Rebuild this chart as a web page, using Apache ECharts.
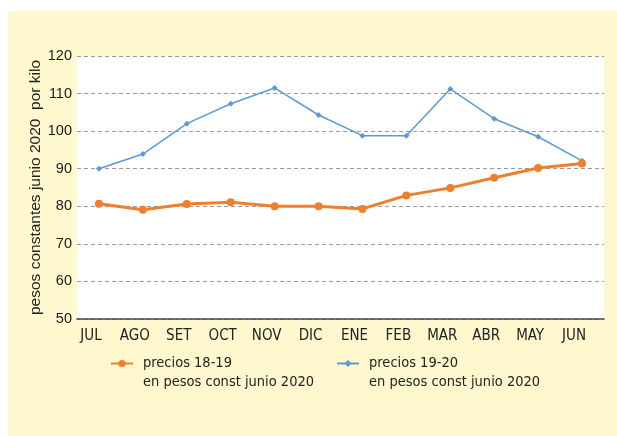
<!DOCTYPE html>
<html>
<head>
<meta charset="utf-8">
<script src="https://cdn.jsdelivr.net/npm/echarts@6/dist/echarts.min.js"></script>
<style>
  html, body { margin: 0; padding: 0; background: #fff; }
  #chart { position: absolute; left: 8px; top: 11px; width: 609px; height: 425px; background: #fff8cf; }
</style>
</head>
<body>
<div id="chart"></div>
<script>
    "use strict";
    var months = ["JUL", "AGO", "SET", "OCT", "NOV", "DIC", "ENE", "FEB", "MAR", "ABR", "MAY", "JUN"];
    var precios1819 = [80.7, 79.1, 80.6, 81.1, 80.0, 80.0, 79.3, 82.9, 84.9, 87.6, 90.2, 91.4];
    var precios1920 = [90.0, 93.9, 102.0, 107.3, 111.5, 104.3, 98.8, 98.8, 111.2, 103.3, 98.5, 92.1];
    var yTicks = { min: 50, max: 120, step: 10 };

    var narrow = '"Liberation Sans Narrow", "DejaVu Sans Condensed", sans-serif';
    var chart = echarts.init(document.getElementById("chart"));

    chart.setOption({
        animation: false,
        grid: {
            left: 69, right: 13, top: 45, bottom: 117,
            show: true, backgroundColor: "#ffffff", borderWidth: 0
        },
        legend: {
            left: 97, top: 319, width: 520,
            itemGap: 22, itemWidth: 22, itemHeight: 9,
            textStyle: {
                fontFamily: narrow, fontSize: 14.5, color: "#222",
                lineHeight: 19, padding: [0, 0, 0, 5]
            },
            // blank first line so the marker sits on the first text line
            formatter: function (name) { return "\n" + name; },
            data: [
                { name: "precios 18-19\nen pesos const junio 2020" },
                { name: "precios 19-20\nen pesos const junio 2020" }
            ]
        },
        xAxis: {
            type: "category",
            data: months,
            boundaryGap: true,
            axisLine: { lineStyle: { color: "#444", width: 1.5 } },
            axisTick: { show: false },
            axisLabel: {
                fontFamily: narrow, fontSize: 15, color: "#222",
                margin: 10, padding: [0, 16, 0, 0]
            }
        },
        yAxis: {
            type: "value",
            min: yTicks.min, max: yTicks.max, interval: yTicks.step,
            name: "pesos constantes junio 2020  por kilo",
            nameLocation: "middle",
            nameGap: 33,
            nameMoveOverlap: false,
            nameTextStyle: { fontFamily: "Liberation Sans, Arial, sans-serif", fontSize: 15.5, color: "#222" },
            axisLine: { show: false },
            axisTick: { show: false },
            axisLabel: { fontFamily: "Liberation Sans, Arial, sans-serif", fontSize: 14.5, color: "#1a1a1a", margin: 5 },
            splitLine: { lineStyle: { color: "#999", type: [4, 3], width: 1 } }
        },
        series: [
            {
                name: "precios 18-19\nen pesos const junio 2020",
                type: "line",
                data: precios1819,
                symbol: "circle", symbolSize: 8,
                itemStyle: { color: "#ee7f2d" },
                lineStyle: { color: "#ee7f2d", width: 3 },
                z: 3
            },
            {
                name: "precios 19-20\nen pesos const junio 2020",
                type: "line",
                data: precios1920,
                symbol: "diamond", symbolSize: 6,
                itemStyle: { color: "#5b9bd5" },
                lineStyle: { color: "#5b9bd5", width: 1.5 },
                z: 2
            }
        ]
    });
</script>
</body>
</html>
